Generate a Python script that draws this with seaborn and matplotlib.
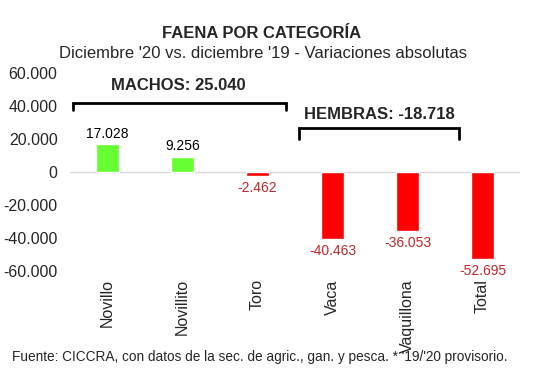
import pandas as pd
import matplotlib
matplotlib.use("Agg")
from matplotlib import pyplot as plt
import seaborn as sns

categorias = ["Novillo", "Novillito", "Toro", "Vaca", "Vaquillona", "Total"]
variacion = [17028, 9256, -2462, -40463, -36053, -52695]
etiquetas = ["17.028", "9.256", "-2.462", "-40.463", "-36.053", "-52.695"]
yticks = [60000, 40000, 20000, 0, -20000, -40000, -60000]
ytick_labels = ["60.000", "40.000", "20.000", "0", "-20.000", "-40.000", "-60.000"]

sns.set_style("white")
plt.rcParams["font.family"] = ["Liberation Sans", "DejaVu Sans"]

df = pd.DataFrame({"categoria": categorias, "valor": variacion})
colores = ["#66FF33" if v > 0 else "#FF0000" for v in variacion]

fig = plt.figure(figsize=(5.48, 3.87), dpi=100)
ax = fig.add_axes([70 / 548, 1 - 271 / 387, 450 / 548, 198 / 387])

sns.barplot(data=df, x="categoria", y="valor", hue="categoria", palette=colores,
            width=0.31, legend=False, ax=ax, saturation=1)

ax.set_xlim(-0.5, 5.5)
ax.set_ylim(-60000, 60000)
ax.set_yticks(yticks)
ax.set_yticklabels(ytick_labels, fontsize=11.5)
ax.tick_params(axis="x", labelrotation=90, labelsize=11.5, length=0, pad=6)
ax.tick_params(axis="y", length=0, pad=9)
ax.set_xlabel("")
ax.set_ylabel("")
for s in ax.spines.values():
    s.set_visible(False)
ax.axhline(0, color="#D9D9D9", lw=1, zorder=0)

for i, (v, t) in enumerate(zip(variacion, etiquetas)):
    if v > 0:
        ax.text(i, v + 2000, t, ha="center", va="bottom", fontsize=10, color="black")
    else:
        ax.text(i, v - 3000, t, ha="center", va="top", fontsize=10, color="#C0282D")

# llaves de agrupamiento
ax.plot([-0.46, -0.46, 2.38, 2.38], [37600, 41800, 41800, 37600], color="black", lw=2,
        clip_on=False, solid_joinstyle="miter")
ax.plot([2.55, 2.55, 4.69, 4.69], [20000, 26700, 26700, 20000], color="black", lw=2,
        clip_on=False, solid_joinstyle="miter")
ax.text(0.95, 52700, "MACHOS: 25.040", ha="center", va="center", fontsize=12, fontweight="bold")
ax.text(3.62, 35150, "HEMBRAS: -18.718", ha="center", va="center", fontsize=12, fontweight="bold")

fig.text(262 / 548, 1 - 33 / 387, "FAENA POR CATEGORÍA", ha="center", va="center",
         fontsize=12, fontweight="bold")
fig.text(263 / 548, 1 - 53 / 387, "Diciembre '20 vs. diciembre '19 - Variaciones absolutas",
         ha="center", va="center", fontsize=12)
fig.text(260 / 548, 1 - 357 / 387,
         "Fuente: CICCRA, con datos de la sec. de agric., gan. y pesca. * '19/'20 provisorio.",
         ha="center", va="center", fontsize=9.8)

fig.savefig("out.png", dpi=100)
